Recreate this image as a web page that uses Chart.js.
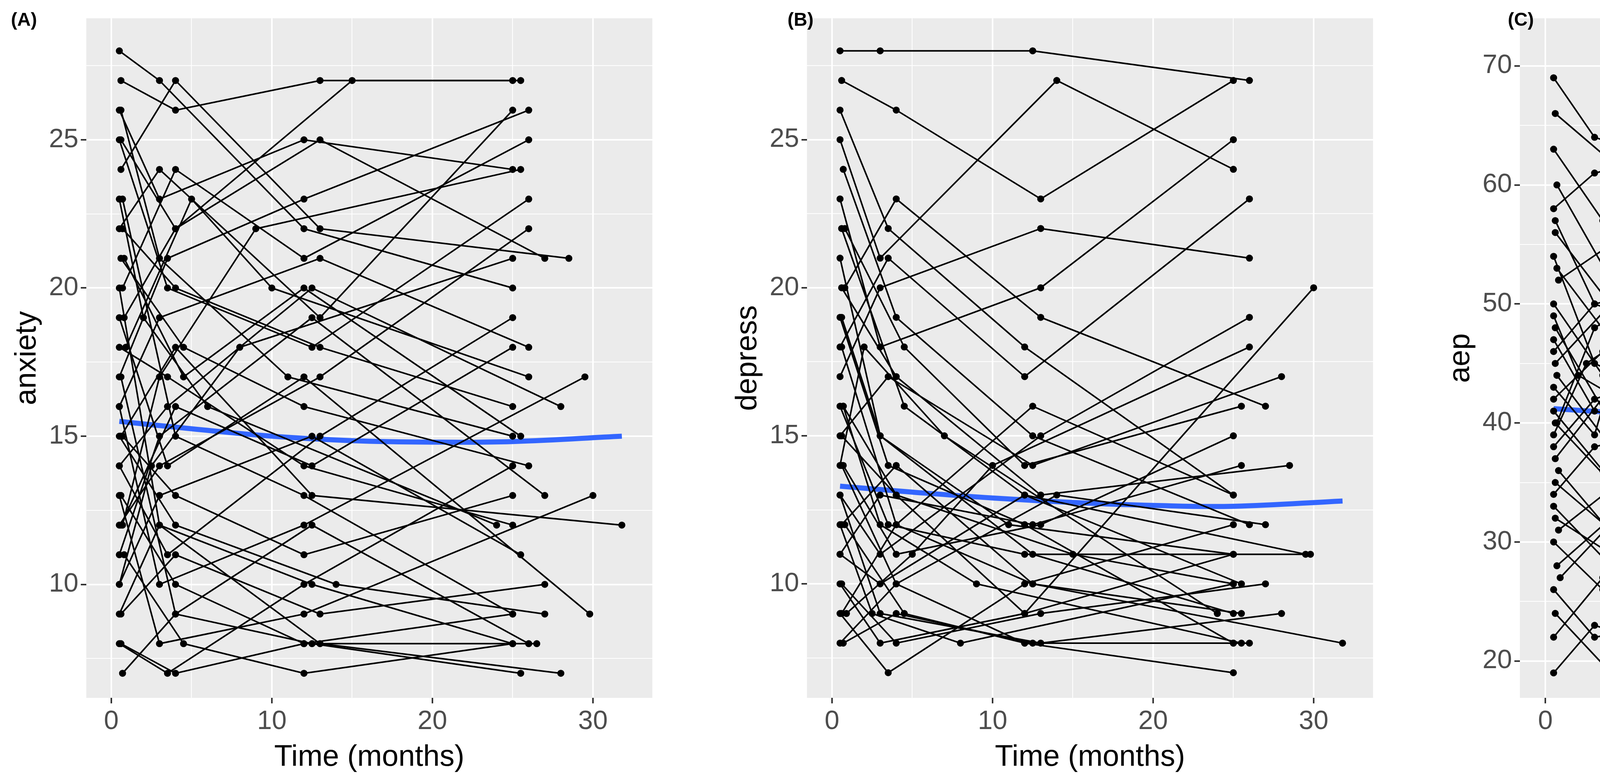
<!DOCTYPE html>
<html><head><meta charset="utf-8">
<script src="https://cdn.jsdelivr.net/npm/chart.js@4.4.0/dist/chart.umd.min.js"></script>
<style>
body{margin:0;width:5500px;height:2000px;background:#fff;position:relative;font-family:"Liberation Sans",Arial,sans-serif;}
.p{position:absolute;top:0;height:2000px;}
.lab{position:absolute;top:22px;font-weight:bold;font-size:48px;z-index:5;}
</style></head><body>
<div class="p" style="left:0;width:1700px"><canvas id="cA"></canvas></div>
<div class="p" style="left:1845px;width:1700px"><canvas id="cB"></canvas></div>
<div class="p" style="left:3670px;width:1730px"><canvas id="cC"></canvas></div>
<div class="lab" style="left:28px">(A)</div>
<div class="lab" style="left:2016px">(B)</div>
<div class="lab" style="left:3860px">(C)</div>
<script>
const anxiety=[
[[0.5,28],[3,27],[12,22],[25,20]],[[0.6,27],[4,26],[13,27],[25.5,27]],[[0.5,25],[3.5,20],[12.5,18],[26,23]],
[[0.7,23],[4,15],[12,13],[25,9]],[[0.5,22],[3,24],[13,19],[25,26]],[[0.6,21],[4.5,18],[12,16],[26,14]],
[[0.5,20],[3,12],[12.5,10],[25,8]],[[0.8,19],[4,22],[13,25],[27,21]],[[0.5,18],[3.5,17],[12,14],[25,12]],
[[0.6,17],[4,9],[12.5,8],[25.5,7]],[[0.5,16],[3,19],[13,21],[26,18]],[[0.7,15],[4,13],[12,11],[25,13]],
[[0.5,14],[3.5,16],[12.5,20],[28,16]],[[0.6,13],[4,10],[12,8],[25,9]],[[0.5,12],[3,14],[13,17],[26,22]],
[[0.8,11],[4.5,8],[12,7],[25,8]],[[0.5,10],[3,13],[12.5,15],[25.5,11]],[[0.6,9],[4,11],[13,9],[27,10]],
[[0.5,8],[3.5,7],[12,10],[25,14]],[[0.7,7],[4,9],[12.5,12],[26,8]],[[0.5,26],[3,23],[12,25],[25,24]],
[[0.6,24],[4,27],[13,22],[28.5,21]],[[0.5,19],[3.5,14],[12,17],[29.8,9]],[[0.6,15],[4,18],[12.5,13],[31.8,12]],
[[0.5,13],[3,8],[12,9],[30,13]],[[0.7,22],[4,20],[13,18],[25,16]],[[0.5,17],[3.5,21],[12,23],[26,26]],
[[0.6,12],[4,16],[12.5,14],[25,18]],[[0.5,9],[3,12],[13,8],[28,7]],[[0.8,21],[4.5,17],[12,20],[25.5,15]],
[[0.5,16],[3,10],[12,12],[29.5,17]],[[0.6,25],[4,22],[15,27],[25,27]],[[0.5,11],[3,15],[12.5,19],[27,13]],
[[0.7,20],[4,24],[12,21],[26,25]],[[0.5,14],[3.5,11],[13,15],[25,19]],[[0.6,8],[4,7],[12,8],[26.5,8]],
[[0.5,23],[2,19],[6,16],[24,12]],[[0.9,18],[5,23],[10,20],[26,17]],[[0.5,10],[2.5,14],[8,18],[25,21]],
[[0.6,26],[3,21],[11,17],[25,15]],[[0.5,15],[4,12],[14,10],[27,9]],[[0.7,12],[3,17],[9,22],[25.5,24]]];
const depress=[
[[0.5,28],[3,28],[12.5,28],[26,27]],[[0.6,27],[4,26],[13,23],[25,27]],[[0.5,26],[3.5,22],[12,18],[25,13]],
[[0.7,24],[4,19],[12.5,15],[26,12]],[[0.5,23],[3,18],[13,20],[25,25]],[[0.6,22],[4.5,16],[12,13],[25.5,10]],
[[0.5,21],[3,15],[12.5,11],[25,9]],[[0.8,20],[4,23],[13,19],[27,16]],[[0.5,19],[3.5,14],[12,12],[25,8]],
[[0.6,18],[4,12],[12.5,10],[25.5,9]],[[0.5,17],[3,20],[13,22],[26,21]],[[0.7,16],[4,13],[12,9],[25,11]],
[[0.5,15],[3.5,17],[12.5,14],[28,17]],[[0.6,14],[4,10],[12,8],[25,8]],[[0.5,13],[3,11],[13,15],[26,19]],
[[0.8,12],[4.5,9],[12,8],[25,7]],[[0.5,11],[3,13],[12.5,12],[25.5,14]],[[0.6,10],[4,8],[13,9],[27,10]],
[[0.5,9],[3.5,7],[12,10],[25,12]],[[0.7,8],[4,9],[12.5,8],[26,8]],[[0.5,25],[3,21],[14,27],[25,24]],
[[0.6,20],[4,17],[13,13],[28.5,14]],[[0.5,16],[3.5,12],[12,11],[29.8,11]],[[0.6,12],[4,14],[12.5,10],[31.8,8]],
[[0.5,10],[3,8],[12,9],[30,20]],[[0.7,14],[4,11],[13,12],[25,15]],[[0.5,18],[3.5,21],[12,17],[26,23]],
[[0.6,9],[4,12],[12.5,16],[25,13]],[[0.5,13],[3,9],[13,8],[28,9]],[[0.8,22],[4.5,18],[12,14],[25.5,16]],
[[0.5,11],[3,10],[12,13],[29.5,11]],[[0.6,15],[4,13],[15,11],[25,10]],
[[0.5,14],[2,18],[7,15],[24,9]],[[0.9,9],[5,11],[10,14],[26,18]],[[0.5,12],[2.5,9],[8,8],[25,10]],
[[0.6,19],[3,15],[11,12],[25,11]],[[0.5,8],[4,10],[14,13],[27,12]],[[0.7,16],[3,12],[9,10],[25.5,8]]];
const aep=[
[[0.5,69],[3,64],[12,60],[25,71]],[[0.6,66],[4,62],[13,55],[25.5,58]],[[0.5,63],[3.5,57],[12.5,50],[26,46]],
[[0.7,60],[4,52],[12,48],[25,40]],[[0.5,58],[3,61],[13,64],[25,62]],[[0.6,56],[4.5,49],[12,44],[26,38]],
[[0.5,54],[3,45],[12.5,39],[25,33]],[[0.8,52],[4,55],[13,58],[27,56]],[[0.5,50],[3.5,44],[12,42],[25,36]],
[[0.6,48],[4,40],[12.5,35],[25.5,30]],[[0.5,46],[3,50],[13,53],[26,49]],[[0.7,44],[4,38],[12,36],[25,41]],
[[0.5,42],[3.5,46],[12.5,44],[28,48]],[[0.6,40],[4,35],[12,31],[25,28]],[[0.5,38],[3,42],[13,47],[26,52]],
[[0.8,36],[4.5,30],[12,27],[25,24]],[[0.5,34],[3,38],[12.5,41],[25.5,37]],[[0.6,32],[4,29],[13,33],[27,35]],
[[0.5,30],[3.5,26],[12,29],[25,32]],[[0.7,28],[4,32],[12.5,37],[26,30]],[[0.5,26],[3,22],[12,24],[25,21]],
[[0.6,24],[4,19],[13,22],[28.5,26]],[[0.5,22],[3.5,27],[12,30],[29.8,25]],[[0.6,45],[4,50],[14,54],[31.8,62]],
[[0.5,19],[3,23],[12,19],[30,32]],[[0.7,53],[4,47],[13,43],[25,45]],[[0.5,41],[3.5,36],[12,40],[26,44]],
[[0.6,37],[4,43],[12.5,46],[25,50]],[[0.5,47],[3,41],[13,38],[28,68]],[[0.8,31],[4.5,35],[12,39],[25.5,43]],
[[0.5,43],[3,39],[9.5,70],[29.5,35]],[[0.6,35],[4,31],[15,28],[25,27]],
[[0.5,49],[2,44],[7,40],[24,35]],[[0.9,27],[5,33],[10,38],[26,46]],[[0.5,39],[2.5,45],[8,50],[25,55]],
[[0.6,57],[3,50],[11,46],[25,42]],[[0.5,33],[4,28],[14,25],[27,22]],[[0.7,40],[3,48],[9,53],[25.5,60]]];
const fitT=[0.5,5,10,15,20,25,31.8];
const anxFit=[15.5,15.25,15.0,14.85,14.8,14.82,15.0];
const depFit=[13.3,13.1,12.9,12.75,12.65,12.62,12.8];
const aepFit=[41.2,40.8,40.4,40.15,40.1,40.5,41.5];
const xTicks=[0,10,20,30];
const yTicksA=[10,15,20,25], yTicksB=[10,15,20,25], yTicksC=[20,30,40,50,60,70];

const bg={id:'bg',beforeDraw(c){const a=c.chartArea,x=c.ctx;x.save();x.fillStyle='#EBEBEB';x.fillRect(a.left,a.top,a.right-a.left,a.bottom-a.top);x.restore();}};
function mk(id,subj,fit,yMin,yMax,yMaj,yTitle,pad){
  const ds=subj.map(s=>({data:s.map(p=>({x:p[0],y:p[1]})),showLine:true,borderColor:'#000',backgroundColor:'#000',borderWidth:4,pointRadius:7,pointHoverRadius:7}));
  ds.push({data:fitT.map((t,i)=>({x:t,y:fit[i]})),showLine:true,borderColor:'#3366FF',borderWidth:13,pointRadius:0,tension:0.4});
  const step=yMaj[1]-yMaj[0];
  const all=[];for(let v=yMaj[0]-step/2;v<=yMax;v+=step/2){if(v>=yMin)all.push(v);}
  const xall=[-5,0,5,10,15,20,25,30].filter(v=>v>=-1.56);
  new Chart(document.getElementById(id),{type:'scatter',data:{datasets:ds},plugins:[bg],
   options:{responsive:true,maintainAspectRatio:false,animation:false,
    layout:{padding:{top:18,right:30,bottom:10,left:pad}},
    plugins:{legend:{display:false},tooltip:{enabled:false}},
    scales:{
     x:{min:-1.56,max:33.7,afterBuildTicks:s=>{s.ticks=xall.map(v=>({value:v}));},
       border:{display:false},
       grid:{color:'#fff',lineWidth:c=>xTicks.includes(c.tick.value)?4:2,tickColor:c=>xTicks.includes(c.tick.value)?'#333':'rgba(0,0,0,0)',tickLength:14,tickWidth:4},
       ticks:{color:'#4D4D4D',font:{size:68,family:'Liberation Sans'},padding:6,callback:v=>xTicks.includes(v)?v:''},
       title:{display:true,text:'Time (months)',color:'#000',font:{size:76,family:'Liberation Sans'},padding:{top:0}}},
     y:{min:yMin,max:yMax,afterBuildTicks:s=>{s.ticks=all.map(v=>({value:v}));},
       border:{display:false},
       grid:{color:'#fff',lineWidth:c=>yMaj.includes(c.tick.value)?4:2,tickColor:c=>yMaj.includes(c.tick.value)?'#333':'rgba(0,0,0,0)',tickLength:14,tickWidth:4},
       ticks:{color:'#4D4D4D',font:{size:68,family:'Liberation Sans'},padding:6,callback:v=>yMaj.includes(v)?v:''},
       title:{display:true,text:yTitle,color:'#000',font:{size:76,family:'Liberation Sans'},padding:{bottom:4}}}
    }}});
}
mk('cA',anxiety,anxFit,6.17,29.1,yTicksA,'anxiety',20);
mk('cB',depress,depFit,6.15,29.1,yTicksB,'depress',20);
mk('cC',aep,aepFit,16.9,74,yTicksC,'aep',20);
</script></body></html>
